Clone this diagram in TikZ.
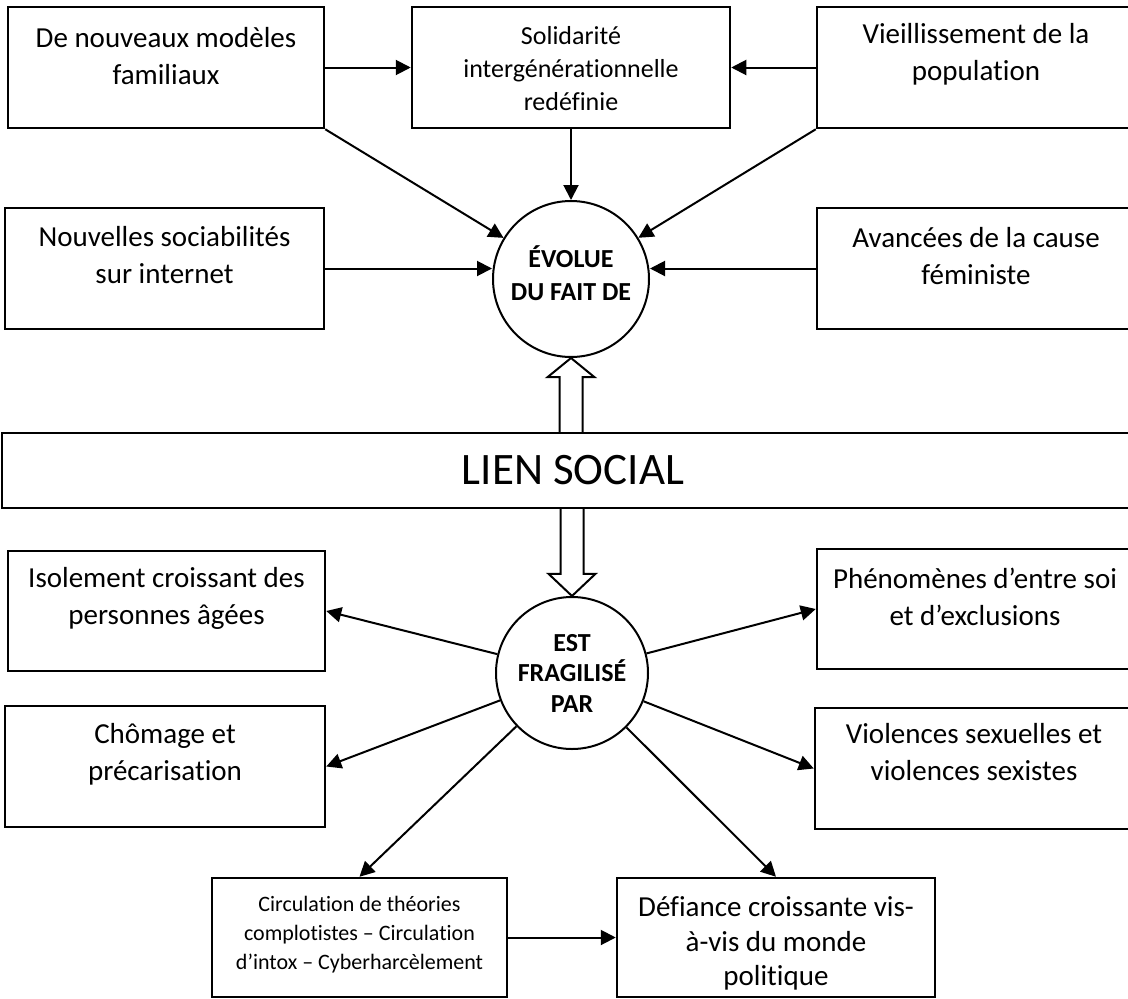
\documentclass[tikz,border=0pt]{standalone}
\usepackage{fontspec}
\setmainfont{Carlito}[Ligatures=NoCommon]
\usetikzlibrary{arrows.meta,calc}
\begin{document}
\begin{tikzpicture}[x=1pt,y=-1pt,
  box/.style={draw, line width=2.5pt, inner sep=0pt},
  tbig/.style={anchor=north, align=center, inner sep=0pt, font=\fontsize{29}{37}\selectfont},
  tmid/.style={anchor=north, align=center, inner sep=0pt, font=\fontsize{26}{33}\selectfont},
  tsmall/.style={anchor=north, align=center, inner sep=0pt, font=\fontsize{22}{29}\selectfont},
  tdef/.style={anchor=north, align=center, inner sep=0pt, font=\fontsize{29}{34.5}\selectfont},
  hub/.style={circle, draw, line width=2pt, inner sep=0pt, align=center},
  arr/.style={line width=2pt, -{Triangle[length=15pt,width=15pt]}},
  hollow/.style={line width=2pt, line join=miter}
]
\useasboundingbox (0,0) rectangle (1128,999);
\fill[white] (0,0) rectangle (1128,999);
\clip (0,0) rectangle (1128,999);

% top boxes
\node[box, minimum width=316, minimum height=121] (b1) at (166,67.5) {};
\node[tbig] (b1t) at ([yshift=-16pt]b1.north) {\strut De nouveaux modèles\\familiaux};
\node[box, minimum width=318, minimum height=121] (b2) at (571,67.5) {};
\node[tmid] (b2t) at ([yshift=-15pt]b2.north) {\strut Solidarité\\intergénérationnelle\\redéfinie};
\node[box, minimum width=318, minimum height=121] (b3) at (976,67.5) {};
\node[tbig] (b3t) at ([yshift=-12pt]b3.north) {\strut Vieillissement de la\\population};

\node[box, minimum width=319, minimum height=121] (b4) at (164.5,268.5) {};
\node[tbig] (b4t) at ([yshift=-14pt]b4.north) {\strut Nouvelles sociabilités\\sur internet};
\node[box, minimum width=318, minimum height=121] (b5) at (976,268.5) {};
\node[tbig] (b5t) at ([yshift=-15pt]b5.north) {\strut Avancées de la cause\\féministe};

% hubs
\node[hub, minimum size=156, font=\bfseries\fontsize{26}{33}\selectfont] (c1) at (571,279) {ÉVOLUE\\DU FAIT DE\rule[-12pt]{0pt}{12pt}};
\node[hub, minimum size=152, font=\bfseries\fontsize{26}{30.5}\selectfont] (c2) at (572,673) {EST\\FRAGILISÉ\\PAR};

% central band
\node[draw, line width=1.6pt, minimum width=1142, minimum height=75, inner sep=0pt,
      font=\fontsize{45}{54}\selectfont] (lien) at (573,470.5) {LIEN SOCIAL};

% lower boxes
\node[box, minimum width=317, minimum height=120] (iso) at (166.5,611) {};
\node[tbig] (isot) at ([yshift=-12pt]iso.north) {\strut Isolement croissant des\\personnes âgées};
\node[box, minimum width=316, minimum height=120] (phen) at (975,609) {};
\node[tbig] (phent) at ([yshift=-15pt]phen.north) {\strut Phénomènes d’entre soi\\et d’exclusions};
\node[box, minimum width=320, minimum height=121] (chom) at (165,766.5) {};
\node[tbig] (chomt) at ([yshift=-13pt]chom.north) {\strut Chômage et\\précarisation};
\node[box, minimum width=318, minimum height=121] (viol) at (974,768.5) {};
\node[tbig] (violt) at ([yshift=-11pt]viol.north) {\strut Violences sexuelles et\\violences sexistes};

\node[box, minimum width=295, minimum height=119] (circ) at (359.5,937.5) {};
\node[tsmall] (circt) at ([yshift=-14.7pt]circ.north) {\strut Circulation de théories\\complotistes – Circulation\\d’intox – Cyberharcèlement};
\node[box, minimum width=318, minimum height=119] (def) at (776,937.5) {};
\node[tdef] (deft) at ([yshift=-15.5pt]def.north) {\strut Défiance croissante vis-\\à-vis du monde\\politique};

% connectors upper part
\draw[arr] (b1.east) -- (b2.west);
\draw[arr] (b3.west) -- (b2.east);
\draw[arr] (b2.south) -- (c1.north);
\draw[arr] (b1.south east) -- (c1);
\draw[arr] (b3.south west) -- (c1);
\draw[arr] (b4.east) -- (b4.east -| c1.west);
\draw[arr] (b5.west) -- (b5.west -| c1.east);

% hollow arrows
\coordinate (ua) at (lien.north -| c1.south);
\draw[hollow] ($(ua)+(-11.5,0)$) -- ($(ua)+(-11.5,-55)$) -- ($(ua)+(-23.5,-55)$)
   -- (c1.south) -- ($(ua)+(23.5,-55)$) -- ($(ua)+(11.5,-55)$) -- ($(ua)+(11.5,0)$);
\coordinate (da) at (lien.south -| c2.north);
\draw[hollow] ($(da)+(-11.5,0)$) -- ($(da)+(-11.5,65)$) -- ($(da)+(-23.5,65)$)
   -- (c2.north) -- ($(da)+(23.5,65)$) -- ($(da)+(11.5,65)$) -- ($(da)+(11.5,0)$);

% connectors lower part
\draw[arr] (c2) -- (iso.east);
\draw[arr] (c2) -- (chom.east);
\draw[arr] (c2) -- (phen.west);
\draw[arr] (c2) -- (viol.west);
\draw[arr] (c2) -- (circ.north);
\draw[arr] (c2) -- (def.north);
\draw[arr] (circ.east) -- (def.west);
\end{tikzpicture}
\end{document}
